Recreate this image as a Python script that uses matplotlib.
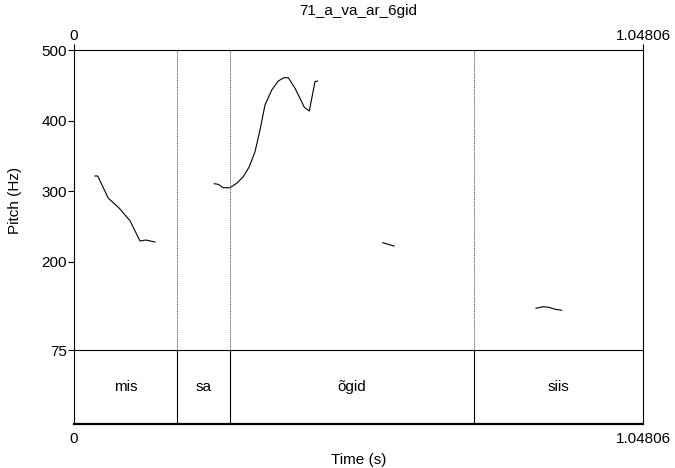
import matplotlib
matplotlib.use("Agg")
import matplotlib.pyplot as plt
import numpy as np

plt.rcParams['font.family'] = ['Liberation Sans', 'DejaVu Sans']

title = "71_a_va_ar_6gid"
t_max = 1.04806
f_min, f_max = 75, 500
y_ticks = [500, 400, 300, 200, 75]

# pitch segments (time s, Hz)
seg1_t = [0.0387, 0.0437, 0.0632, 0.0834, 0.1031, 0.1216, 0.1321, 0.1492]
seg1_f = [321.5, 321.5, 290.0, 275.8, 258.2, 229.4, 230.8, 228.0]
seg2_t = [0.2584, 0.2658, 0.2750, 0.2873, 0.2997, 0.3118, 0.3229, 0.3334, 0.3426,
          0.3518, 0.3642, 0.3763, 0.3868, 0.3947, 0.4071, 0.4163, 0.4242, 0.4334,
          0.4439, 0.4489]
seg2_f = [310.6, 309.7, 304.9, 304.9, 311.2, 320.5, 334.7, 355.9, 386.7,
          422.1, 443.3, 456.1, 460.8, 460.8, 445.7, 431.6, 418.8, 413.6,
          455.1, 456.1]
seg3_t = [0.5686, 0.5789, 0.5894]
seg3_f = [227.0, 224.7, 222.3]
seg4_t = [0.8510, 0.8644, 0.8768, 0.8860, 0.8983]
seg4_f = [134.1, 136.4, 135.0, 132.7, 131.3]

boundaries = [0.1897, 0.2873, 0.7368]
labels = ["mis", "sa", "õgid", "siis"]

W, H = 675, 468
fig = plt.figure(figsize=(W / 100, H / 100), dpi=100)
L, R, T, M, B = 74, 643, 50, 350, 424

ax = fig.add_axes([L / W, 1 - M / H, (R - L) / W, (M - T) / H])
tx = fig.add_axes([L / W, 1 - B / H, (R - L) / W, (B - M) / H])

fs = 11
for st, sf in [(seg1_t, seg1_f), (seg2_t, seg2_f), (seg3_t, seg3_f), (seg4_t, seg4_f)]:
    ax.plot(st, sf, color='black', lw=0.8)

for b in boundaries:
    ax.axvline(b, color='#555555', lw=0.7, ls=(0, (1.0, 0.8)))
    tx.axvline(b, color='black', lw=0.8)

ax.set_xlim(0, t_max)
ax.set_ylim(f_min, f_max)
ax.set_yticks(y_ticks)
ax.set_yticklabels([str(v) for v in y_ticks], fontsize=fs)
ax.tick_params(axis='y', length=4, width=0.8, pad=1)
ax.set_xticks([0, t_max])
ax.set_xticklabels(["0", "1.04806"], fontsize=fs)
ax.xaxis.tick_top()
ax.tick_params(axis='x', length=4, width=0.8, pad=1)
ax.set_ylabel("Pitch (Hz)", fontsize=fs, labelpad=14)
ax.set_title(title, fontsize=fs, pad=25)
for s in ax.spines.values():
    s.set_linewidth(0.8)
ax.spines['bottom'].set_visible(False)

tx.set_xlim(0, t_max)
tx.set_ylim(0, 1)
tx.set_yticks([])
tx.set_xticks([0, t_max])
tx.set_xticklabels(["0", "1.04806"], fontsize=fs)
tx.tick_params(axis='x', length=0, pad=6)
for s in tx.spines.values():
    s.set_linewidth(0.8)
tx.spines['bottom'].set_linewidth(1.6)
tx.set_xlabel("Time (s)", fontsize=fs, labelpad=5)

edges = [0] + boundaries + [t_max]
for i, lab in enumerate(labels):
    tx.text((edges[i] + edges[i + 1]) / 2, 0.5, lab, ha='center', va='center', fontsize=fs)

fig.savefig("out.png", dpi=100)
